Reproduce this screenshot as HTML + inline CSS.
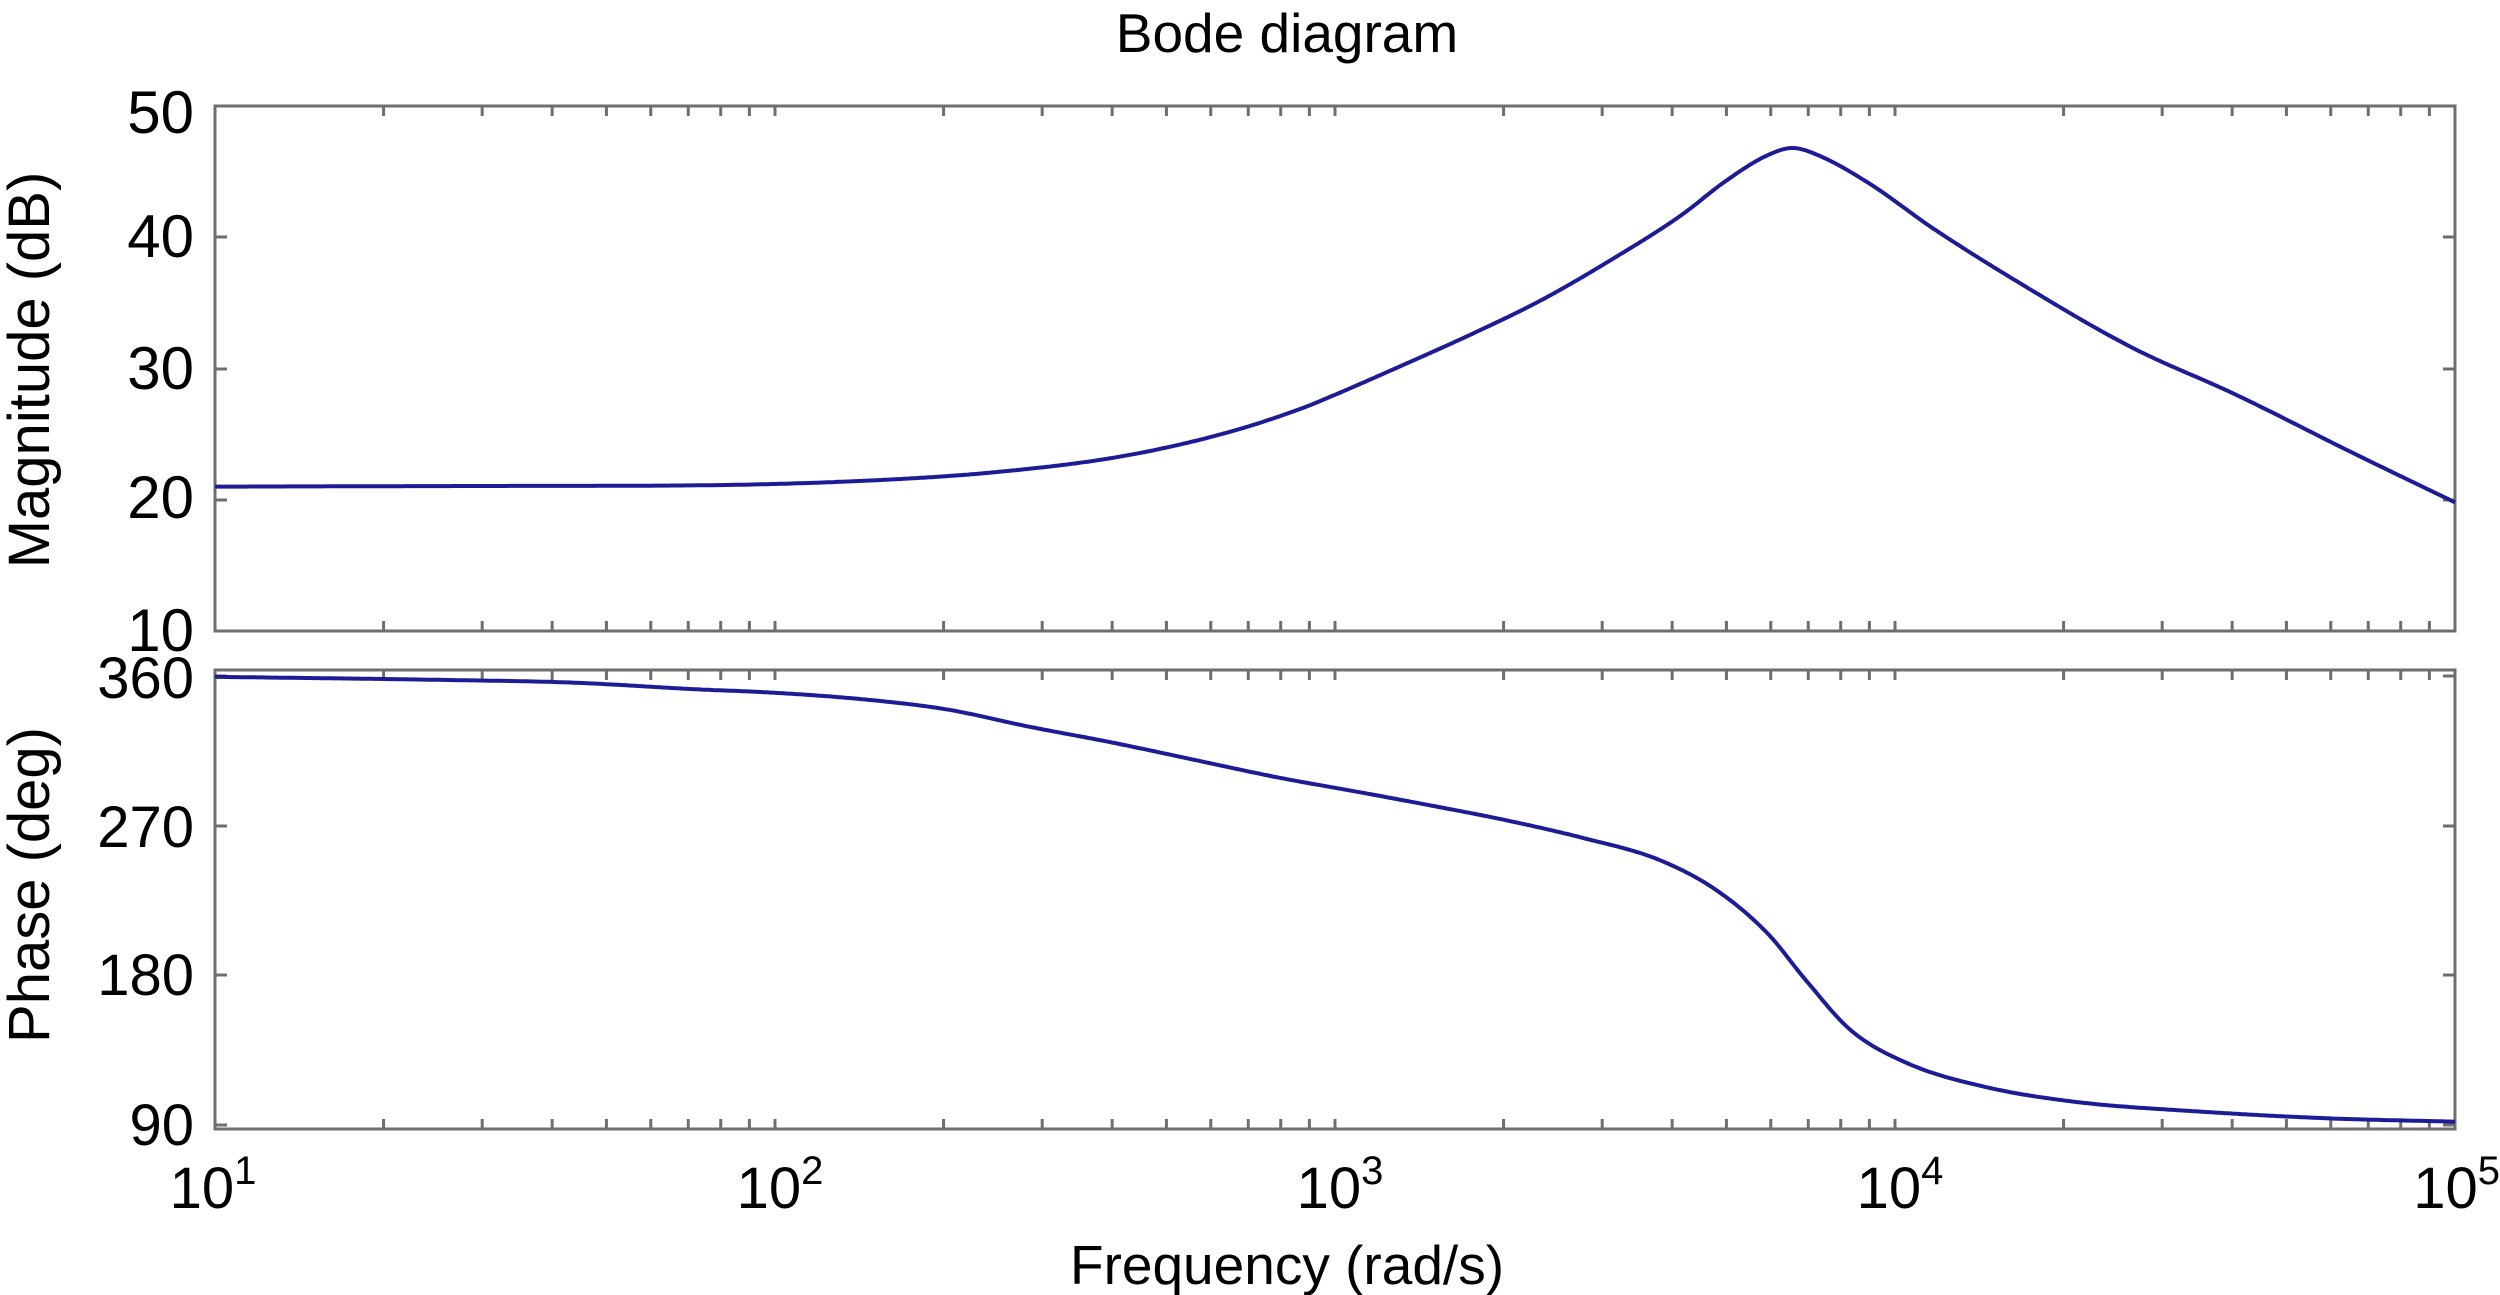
<!DOCTYPE html>
<html><head><meta charset="utf-8"><style>
html,body{margin:0;padding:0;background:#fff;}
svg{display:block;}
text{font-family:"Liberation Sans",sans-serif;fill:#000;}
</style></head><body>
<svg id="s" width="2500" height="1295" viewBox="0 0 2500 1295" xmlns="http://www.w3.org/2000/svg">
<text x="1287" y="52" font-size="55" text-anchor="middle">Bode diagram</text>
<g id="ax" stroke="#6e6e6e" stroke-width="3" fill="none"></g>
<g font-size="60" text-anchor="end">
<text x="194" y="133">50</text><text x="194" y="257">40</text><text x="194" y="389">30</text>
<text x="194" y="518">20</text><text x="194" y="651">10</text>
</g>
<g font-size="58" text-anchor="end">
<text x="194" y="698">360</text><text x="194" y="847">270</text><text x="194" y="995">180</text>
<text x="194" y="1145">90</text>
</g>
<g font-size="58" text-anchor="middle">
<text x="213" y="1208">10<tspan dy="-24" font-size="40">1</tspan></text>
<text x="780" y="1208">10<tspan dy="-24" font-size="40">2</tspan></text>
<text x="1340" y="1208">10<tspan dy="-24" font-size="40">3</tspan></text>
<text x="1900" y="1208">10<tspan dy="-24" font-size="40">4</tspan></text>
<text x="2500" y="1208" text-anchor="end">10<tspan dy="-24" font-size="40">5</tspan></text>
<text x="1287" y="1284" font-size="55">Frequency (rad/s)</text>
<text transform="translate(49,370) rotate(-90)" font-size="58">Magnitude (dB)</text>
<text transform="translate(49,885) rotate(-90)" font-size="58">Phase (deg)</text>
</g>
<path id="m" fill="none" stroke="#1c1c96" stroke-width="4"/>
<path id="p" fill="none" stroke="#1c1c96" stroke-width="4"/>
</svg>
<script>
var L=215,R=2455,D=560;
function X(lf){return L+(lf-1)*D;}
var ax=document.getElementById('ax'),h='';
[[106,631],[670,1129]].forEach(function(b){
 h+='<rect x="'+L+'" y="'+b[0]+'" width="'+(R-L)+'" height="'+(b[1]-b[0])+'"/>';
 for(var d=1;d<5;d++)for(var k=1;k<10;k++){var x=X(d+Math.log10(k));
  h+='<line x1="'+x+'" y1="'+b[0]+'" x2="'+x+'" y2="'+(b[0]+10)+'"/><line x1="'+x+'" y1="'+b[1]+'" x2="'+x+'" y2="'+(b[1]-10)+'"/>';}
});
[106,237,369,500,631].forEach(function(y){h+='<line x1="'+L+'" y1="'+y+'" x2="'+(L+12)+'" y2="'+y+'"/><line x1="'+R+'" y1="'+y+'" x2="'+(R-12)+'" y2="'+y+'"/>';});
[676,826,975,1125].forEach(function(y){h+='<line x1="'+L+'" y1="'+y+'" x2="'+(L+12)+'" y2="'+y+'"/><line x1="'+R+'" y1="'+y+'" x2="'+(R-12)+'" y2="'+y+'"/>';});
ax.innerHTML=h;
function mono(pts){
 var n=pts.length,xs=pts.map(p=>p[0]),ys=pts.map(p=>p[1]),dl=[],m=[];
 for(var i=0;i<n-1;i++)dl.push((ys[i+1]-ys[i])/(xs[i+1]-xs[i]));
 m[0]=dl[0];m[n-1]=dl[n-2];
 for(i=1;i<n-1;i++){m[i]=(dl[i-1]*dl[i]<=0)?0:(dl[i-1]+dl[i])/2;}
 for(i=0;i<n-1;i++){if(dl[i]==0){m[i]=m[i+1]=0;continue;}var a=m[i]/dl[i],b=m[i+1]/dl[i],t=a*a+b*b;if(t>9){var s=3/Math.sqrt(t);m[i]=s*a*dl[i];m[i+1]=s*b*dl[i];}}
 return function(x){var i=0;while(i<n-2&&x>xs[i+1])i++;var hh=xs[i+1]-xs[i],t=(x-xs[i])/hh,t2=t*t,t3=t2*t;
  return (2*t3-3*t2+1)*ys[i]+(t3-2*t2+t)*hh*m[i]+(-2*t3+3*t2)*ys[i+1]+(t3-t2)*hh*m[i+1];};
}
function path(pts,fy){var f=mono(pts),s='';for(var k=0;k<=800;k++){var lf=1+4*k/800;s+=(k?'L':'M')+X(lf).toFixed(1)+','+fy(f(lf)).toFixed(1);}return s;}
var mag=[[1,21],[1.5,21.05],[1.866,21.1],[2.186,21.5],[2.393,22.1],[2.618,23.3],[2.806,25.1],[2.943,27.0],[3.0,28.0],[3.118,30.2],[3.243,32.6],[3.368,35.2],[3.494,38.3],[3.619,41.7],[3.695,44.2],[3.77,46.2],[3.817,46.8],[3.86,46.3],[3.954,44.1],[4.067,40.7],[4.227,36.4],[4.423,31.6],[4.609,28.0],[4.816,23.6],[5,19.8]];
var ph=[[1,359.5],[1.415,357.6],[1.64,356],[1.86,352],[1.995,350],[2.157,346],[2.305,340],[2.454,329.5],[2.602,320],[2.75,309.5],[2.898,299],[3.046,290],[3.195,280.6],[3.295,274],[3.443,262.6],[3.579,249.4],[3.682,231],[3.773,205],[3.841,177],[3.921,147],[4.023,127],[4.16,113],[4.32,104],[4.548,98],[4.775,94],[5,92]];
document.getElementById('m').setAttribute('d',path(mag,function(v){return 106+(50-v)*13.125;}));
document.getElementById('p').setAttribute('d',path(ph,function(v){return 676+(360-v)*(449/270);}));
</script>
</body></html>
